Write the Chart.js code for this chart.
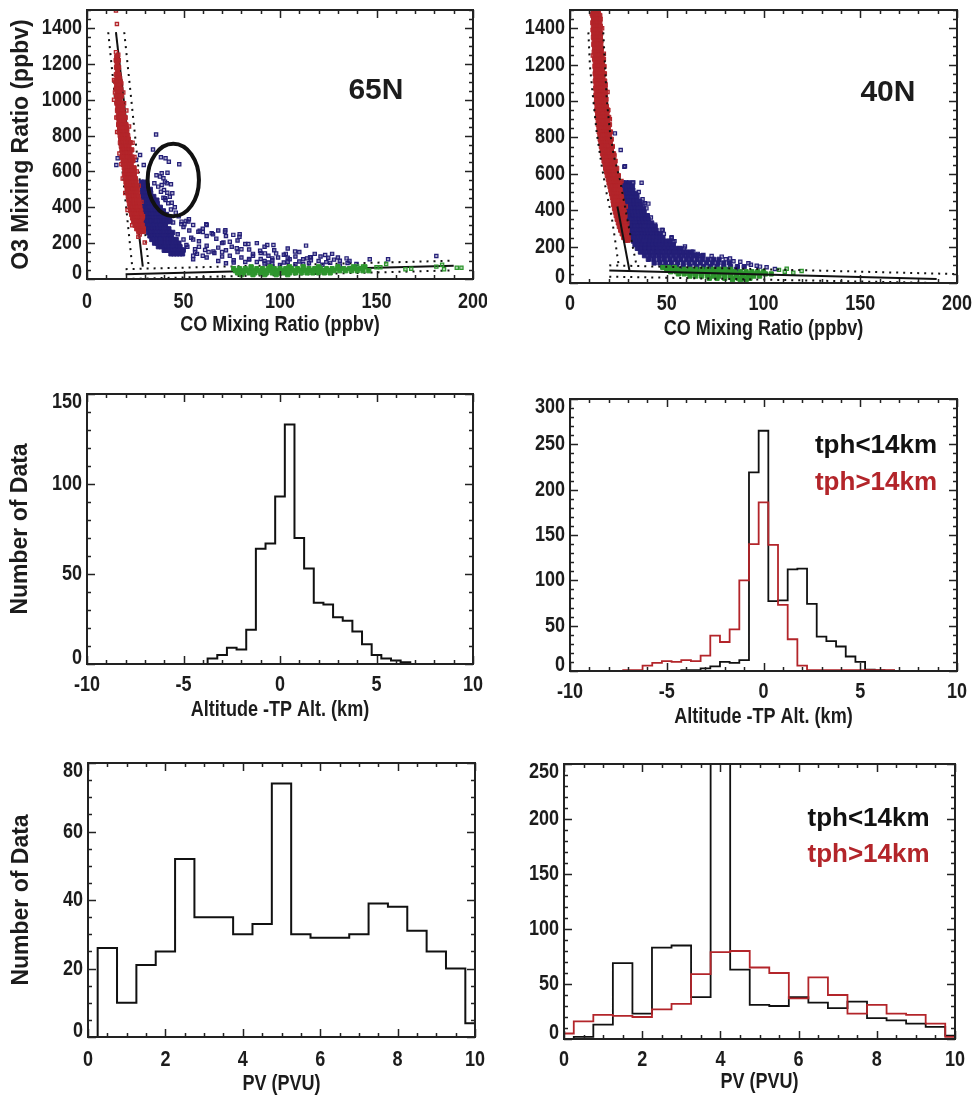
<!DOCTYPE html>
<html>
<head>
<meta charset="utf-8">
<script src="https://cdn.jsdelivr.net/npm/chart.js@4.4.1/dist/chart.umd.min.js"></script>
<style>
  body { margin: 0; background: #fff; width: 974px; height: 1096px; position: relative; overflow: hidden; }
  .box { position: absolute; }
</style>
</head>
<body>
<div class="box" style="left:0;top:0;width:487px;height:345px"><canvas id="c1"></canvas></div>
<div class="box" style="left:487px;top:0;width:487px;height:345px"><canvas id="c2"></canvas></div>
<div class="box" style="left:0;top:345px;width:487px;height:390px"><canvas id="c3"></canvas></div>
<div class="box" style="left:487px;top:345px;width:487px;height:390px"><canvas id="c4"></canvas></div>
<div class="box" style="left:0;top:740px;width:487px;height:356px"><canvas id="c5"></canvas></div>
<div class="box" style="left:487px;top:740px;width:487px;height:356px"><canvas id="c6"></canvas></div>
<script>
// ---- scatter data: each row is [O3, CO, CO, ...] ----
// 65N
const red65Core = [
  [1240,15.4],[1220,15.1,16.2],[1200,15.6],[1180,15.3,16.4],[1160,15.8],[1140,15.2,16.5],[1120,15.6,16.9],
  [1100,14.9,16.1,17.2],[1080,15.4,16.6],[1060,15.1,16.3,17.5],[1040,15.6,16.8],[1020,15.3,16.5,17.8],
  [1000,15.8,17.1],[980,15.5,16.7,18],[960,16,17.3,18.4],[940,15.8,17,18.3],[920,16.3,17.6,18.8],
  [900,16.1,17.4,18.7,19.8],[880,16.6,17.9,19.2],[860,16.4,17.7,19,20.2],[840,16.9,18.2,19.5,20.6],
  [820,16.7,18,19.3,20.6],[800,17.2,18.5,19.8,21.1],[780,17.5,18.8,20.1,21.4],[760,17.3,18.6,19.9,21.2,22.4],
  [740,17.8,19.1,20.4,21.7],[720,18.1,19.4,20.7,22,23.2],[700,18.4,19.7,21,22.3],[680,18.2,19.5,20.8,22.1,23.4],
  [660,18.7,20,21.3,22.6,23.8],[640,19,20.3,21.6,22.9],[620,19.3,20.6,21.9,23.2,24.4],[600,19.6,20.9,22.2,23.5,24.7],
  [580,19.4,20.7,22,23.3,24.5],[560,19.9,21.2,22.5,23.8,25.1],[540,20.2,21.5,22.8,24.1,25.4],
  [520,20.5,21.8,23.1,24.4,25.6],[500,20.8,22.1,23.4,24.7,26],[480,21.1,22.4,23.7,25,26.2],
  [460,21.4,22.7,24,25.3,26.5],[440,21.7,23,24.3,25.6,26.8],[420,22,23.3,24.6,25.9,27.1],
  [400,22.3,23.6,24.9,26.2,27.4],[380,22.7,24,25.3,26.6,27.8],[360,23.1,24.4,25.7,27,28.1],
  [340,23.6,24.9,26.2,27.4,28.5],[320,24.2,25.5,26.8,28],[300,24.9,26.2,27.4,28.6],[280,25.8,27,28.2,29.2],
  [265,26.8,28,29.2]
];
const red65Sparse = [
  [1497,15],[1422,15.5],[1265,15],[1250,16.2],[1110,14],[1090,17.8],[1040,14.5,18.8],[1000,14],[980,19.2],
  [940,20.4],[900,15.2],[850,21.8],[820,15.6],[760,23.6],[700,16.8],[680,24.6],[640,17.8],[600,25.8],
  [560,18.5],[520,26.8],[480,19.8],[430,28.2],[385,21],[350,29],[300,23.4],[248,27.3],[236,26.6],[204,29.9]
];
const blue65Core = [
  [540,28.2,29.6],[520,28.4,29.8,31.2],[500,28.6,30,31.4,32.8],[480,28.8,30.2,31.6,33],
  [460,29,30.4,31.8,33.2,34.6],[440,29.2,30.6,32,33.4,34.8,36.2],[420,29.4,30.8,32.2,33.6,35,36.4],
  [400,29.6,31,32.4,33.8,35.2,36.6,38],[380,29.8,31.2,32.6,34,35.4,36.8,38.2,39.6],
  [360,30,31.4,32.8,34.2,35.6,37,38.4,39.8,41.2],[340,30.2,31.6,33,34.4,35.8,37.2,38.6,40,41.4,42.8],
  [320,30.4,31.8,33.2,34.6,36,37.4,38.8,40.2,41.6,43],[300,30.8,32.2,33.6,35,36.4,37.8,39.2,40.6],
  [280,31.2,32.6,34,35.4,36.8,38.2,39.6,41,42.4],[260,31.8,33.2,34.6,36,37.4,38.8,40.2,41.6,43,44.4],
  [240,32.6,34,35.4,36.8,38.2,39.6,41,42.4,43.8],[220,33.6,35,36.4,37.8,39.2,40.6,42,43.4,44.8,46.2],
  [200,35,36.4,37.8,39.2,40.6,42,43.4,44.8,46.2,47.6],[180,37,38.4,39.8,41.2,42.6,44,45.4,46.8,48.2],
  [160,40,41.4,42.8,44.2,45.6,47,48.4,49.8],[140,43.5,45,46.5,48,49.5]
];
const blue65Sparse = [
  [806,35.8],[722,34.2],[692,27.5],[679,38.3],[673,40.7,15.9],[664,25.4],[654,42.4],[640,47.8],[636,29.4,15.2],
  [592,41.7],[590,38.7],[578,36],[571,37.8],[562,39.6],[543,40.4],[534,41.3,34.9],[528,43.5],[524,38.7],
  [515,36.9],[496,39.9],[487,38.3],[481,41.6],[478,44.2],[459,42.9],[453,39.6],[450,40.4],[440,40.7],
  [425,43.9],[422,42.1],[388,43.5],[400,45.5],[370,46],[350,47.5],
  [333,52.8],[324,51.5],[320,49,52.5],[315,44.6],[306,48.9,61.8],[305,50.5],[301,55,62],[272,71.7],[269,58.4],
  [264,57.7,71.5],[262,60],[255,64.6],[250,65.3,79.1],[246,75.8],[236,79],[220,50,55],[208,74],[203,70.7],
  [195,83.6],[190,51.5,93.4,96.6],[186,113.5],[180,52,58],[171,77.6],[166,56,80],[162,61.2],[158,89.7],
  [153,65.5,107.8],[150,56,63,70],[143,92.2,98],[140,103],[134,123.4],[130,55,60],[128,181],[121,115.6],
  [115,134.5],[110,146.5,156],[84,139.6]
];
const blue65Low = [
  [290,50],[270,53],[250,47],[230,54],[210,58],[185,62],[165,50],[140,57],[120,62],[110,55],[280,60],[240,62],
  [270,68],[240,72],[225,67],[215,78],[200,70],[195,82],[180,75],[175,68],[165,84],[160,72],[150,78],[145,66],
  [140,86],[130,74],[125,70],[120,80],[112,84],[105,76],[100,68],[95,82],[88,72],
  [200,88],[180,92],[170,104],[160,97],[150,110],[145,90],[140,118],[135,102],[130,94],[125,108],[120,99],
  [118,125],[115,114],[112,90],[110,105],[108,128],[105,96],[100,120],[98,110],[95,88],[92,102],[90,126],
  [88,115],[85,96],[82,108],[80,122],[78,100],[75,131],[120,130],[140,127],[130,86],[100,92],[118,104],
  [104,116],[125,121],[92,94],[110,112],[92,76],[86,92],[83,112],[94,124],[102,131],[115,96],[122,116],
  [108,84],[96,104],[89,135],[101,136]
];
const green65Core = [
  [68,85,95,105,112,120,130,138,144],
  [58,76,79,82,85,88,91,94,97,100,103,106,109,112,115,118,121,124,127,130,133,136,139,142],
  [46,77,80,83,86,89,92,95,98,101,104,107,110,113,116,119,122,125,128,131,134,137,140,143,146],
  [34,78,81,84,87,90,93,96,99,102,105,108,111,114,117,120,123,126],
  [24,80,86,92,98,104]
];
const green65Sparse = [[70,140,143],[65,150,152],[84,155],[54,165,185],[57,168],[69,181],[80,184],[63,191.6,194]];

// 40N
const red40Core = [
  [1490,12.2,13.4,14.6],[1470,11.8,13,14.2,15.4],[1450,12.2,13.4,14.6,15.6],[1430,11.8,13,14.2,15.4],
  [1410,12.1,13.3,14.5,15.7],[1390,11.9,13.1,14.3,15.5],[1370,12.3,13.5,14.7,15.9],[1350,12.1,13.3,14.5,15.7],
  [1330,12.5,13.7,14.9,16],[1310,12.3,13.5,14.7,15.9],[1290,12.7,13.9,15.1,16.2],[1270,12.5,13.7,14.9,16.1],
  [1250,12.9,14.1,15.3,16.5],[1230,12.7,13.9,15.1,16.3,17.3],[1210,13.1,14.3,15.5,16.7],
  [1190,12.9,14.1,15.3,16.5,17.6],[1170,13.2,14.4,15.6,16.8],[1150,13,14.2,15.4,16.6,17.8],
  [1130,13.4,14.6,15.8,17],[1110,13.1,14.3,15.5,16.7,17.9],[1090,13.5,14.7,15.9,17.1,18.2],
  [1070,13.3,14.5,15.7,16.9,18.1],[1050,13.6,14.8,16,17.2,18.4],[1030,13.4,14.6,15.8,17,18.2],
  [1010,13.8,15,16.2,17.4,18.6],[990,13.6,14.8,16,17.2,18.4],[970,14,15.2,16.4,17.6,18.8],
  [950,13.9,15.1,16.3,17.5,18.7,19.6],[930,14.3,15.5,16.7,17.9,19.1],[910,14.2,15.4,16.6,17.8,19,20],
  [890,14.6,15.8,17,18.2,19.4],[870,14.6,15.8,17,18.2,19.4,20.4],[850,15,16.2,17.4,18.6,19.8],
  [830,15.1,16.3,17.5,18.7,19.9,20.9],[810,15.5,16.7,17.9,19.1,20.3],[790,15.6,16.8,18,19.2,20.4,21.3],
  [770,16,17.2,18.4,19.6,20.8],[750,16.2,17.4,18.6,19.8,21,21.9],[730,16.6,17.8,19,20.2,21.4],
  [710,16.8,18,19.2,20.4,21.6,22.5],[690,17.3,18.5,19.7,20.9,22.1],[670,17.6,18.8,20,21.2,22.4,23.3],
  [650,18.1,19.3,20.5,21.7,22.9],[630,18.4,19.6,20.8,22,23.2,24.1],[610,18.9,20.1,21.3,22.5,23.7],
  [590,19.3,20.5,21.7,22.9,24.1,25],[570,19.8,21,22.2,23.4,24.6],[550,20.2,21.4,22.6,23.8,25,25.8],
  [530,20.7,21.9,23.1,24.3,25.5],[510,21.1,22.3,23.5,24.7,25.9],[490,21.5,22.7,23.9,25.1,26.3],
  [470,21.9,23.1,24.3,25.5,26.6],[450,22.3,23.5,24.7,25.9,27],[430,22.6,23.8,25,26.2,27.3],
  [410,23,24.2,25.4,26.6,27.7],[390,23.4,24.6,25.8,27,28],[370,23.9,25.1,26.3,27.5,28.4],
  [350,24.4,25.6,26.8,28],[330,25,26.2,27.4,28.5],[310,25.5,26.7,27.9,29],[290,26.2,27.4,28.6,29.5],
  [270,27,28.2,29.3],[250,27.8,29,30],[235,28.8,30]
];
const red40Sparse = [[1480,11.2],[1400,16.6],[1250,11.8],[1260,17.5],[1050,19.4],[900,20.6],[700,23],[560,26.6],[420,28.8],[330,29.6]];
const blue40Core = [
  [550,27.5,29,30.5],[530,27.8,29.3,30.8,32.3],[510,28,29.5,31,32.5],[490,28.2,29.7,31.2,32.7,34],
  [470,28.4,29.9,31.4,32.9,34.4],[450,28.6,30.1,31.6,33.1,34.6,36],[430,28.8,30.3,31.8,33.3,34.8,36.3],
  [410,29,30.5,32,33.5,35,36.5,38],[390,29.3,30.8,32.3,33.8,35.3,36.8,38.3],
  [370,29.6,31.1,32.6,34.1,35.6,37.1,38.6,40],[350,29.9,31.4,32.9,34.4,35.9,37.4,38.9,40.4],
  [330,30.2,31.7,33.2,34.7,36.2,37.7,39.2,40.7,42.2],[310,30.6,32.1,33.6,35.1,36.6,38.1,39.6,41.1,42.6,44],
  [290,31,32.5,34,35.5,37,38.5,40,41.5,43,44.5],[270,31.5,33,34.5,36,37.5,39,40.5,42,43.5,45,46.5],
  [250,32,33.6,35.2,36.8,38.4,40,41.6,43.2,44.8,46.4,48],
  [230,32.8,34.5,36.2,37.9,39.6,41.3,43,44.7,46.4,48.1,49.8,51.5],
  [210,33.6,35.4,37.2,39,40.8,42.6,44.4,46.2,48,49.8,51.6,53.4],
  [190,34.8,36.8,38.8,40.8,42.8,44.8,46.8,48.8,50.8,52.8,54.8,56.8],
  [170,36.4,38.6,40.8,43,45.2,47.4,49.6,51.8,54,56.2,58.4,60.6,62.8],
  [150,38.5,41,43.5,46,48.5,51,53.5,56,58.5,61,63.5,66,68.5],
  [130,40.5,43.3,46.1,48.9,51.7,54.5,57.3,60.1,62.9,65.7,68.5,71.3,74.1,77],
  [110,43.5,46.5,49.5,52.5,55.5,58.5,61.5,64.5,67.5,70.5,73.5,76.5,79.5,82.5],
  [90,48,51.5,55,58.5,62,65.5,69,72.5,76,79.5,83,86.5,90],
  [75,54,58,62,66,70,74,78,82,86]
];
const blue40Sparse = [
  [822,23.2],[731,26.2],[639,28.1],[641,28.4],[553,32.7],[551,32.4,37],[548,30.1],[477,34.8],[438,38.7],
  [436,37.9,40.5],[391,37.9],[292,47.4],[291,47.9],[252,52.5],[246,52.5],[227,53.4],[200,59.4],[190,56.8],
  [172,63.7],[163,62],[154,65.4,68.9],[148,73.2],[145,78.4],[135,82.7],[130,80.5],[120,84.5],[117,88],
  [108,92.2],[100,93.5],[95,96.5],[90,98.2],[86,101.6],[77,105.9],[500,35.5],[460,37.5],[410,39.5],
  [360,41.8],[320,44],[270,48.5],[230,54],[190,59],[160,66]
];
const green40Core = [
  [85,48,51,54],[75,50,53,56,59,62,65,68,71,74,77,80,83],
  [62,52,55,58,61,64,67,70,73,76,79,82,85,88,91,94,97,100],
  [50,56,59,62,65,68,71,74,77,80,83,86,89,92,95,98,101,104],
  [38,62,65,68,71,74,77,80,83,86,89,92,95,98],[26,72,76,80,84,87,90,93],[18,84,88,91]
];
const green40Sparse = [[72,108],[62,111],[56,115.4],[66,119.7],[78,112]];

// ---- fitted lines, [CO, O3] ----
const fit65Steep   = [[15,1376],[28.9,69]];
const fit65SteepLo = [[11,1376],[23.5,62]];
const fit65SteepHi = [[19.3,1376],[32,65]];
const fit65Flat    = [[20,27],[190,74]];
const fit65FlatHi  = [[20,55],[190,102]];
const fit65FlatLo  = [[20,0],[190,48]];
const fit40Steep   = [[24.5,420],[30.7,70]];
const fit40SteepLo = [[9.5,1377],[10.3,1193],[12,1009],[13.8,825],[16.4,642],[18.9,494],[21.5,366],[23.3,237],[25,108]];
const fit40SteepHi = [[17.2,1377],[18.1,1193],[19,1009],[20.7,825],[22.7,697],[25.8,568],[28.4,421],[31,274],[33.1,164],[34.5,90]];
const fit40Flat    = [[20.3,68],[189.5,22]];
const fit40FlatHi  = [[20.3,97],[200,49]];
const fit40FlatLo  = [[20.3,35],[190,0]];

// ---- histograms (bin centres, counts) ----
const alt65Bins  = [-4,-3.5,-3,-2.5,-2,-1.5,-1,-0.5,0,0.5,1,1.5,2,2.5,3,3.5,4,4.5,5,5.5,6,6.5,7];
const alt65Count = [0,3,5,9,8,19,64,67,93,133,70,53,34,33,26,24,18,11,5,3,2,1,0];
const alt40LowBins  = [-4.5,-4,-3.5,-3,-2.5,-2,-1.5,-1,-0.5,0,0.5,1,1.5,2,2.5,3,3.5,4,4.5,5,5.5,6,6.5,7];
const alt40LowCount = [0,1,1,3,5,10,9,12,219,265,77,78,112,113,74,38,33,27,16,10,1.5,1,0.5,0];
const alt40HighBins  = [-7.5,-7,-6.5,-6,-5.5,-5,-4.5,-4,-3.5,-3,-2.5,-2,-1.5,-1,-0.5,0,0.5,1,1.5,2,2.5,3,3.5,4,4.5,5,5.5,6,6.5,7];
const alt40HighCount = [0,1,1,6,9,11,10,12,11,17,39,32,46,100,140,186,139,73,35,6,1,1,1,1,1,1,1,1,1,0];
const pvBins     = [0,0.5,1,1.5,2,2.5,3,3.5,4,4.5,5,5.5,6,6.5,7,7.5,8,8.5,9,9.5,10];
const pv65Count  = [0,26,10,21,25,52,35,35,30,33,74,30,29,29,30,39,38,31,25,20,4];
const pv40Low    = [0,2,13,69,23,83,85,38,300,63,31,30,38,33,28,34,19,17,14,11,3];
const pv40High   = [5,16,22,21,20,27,32,59,79,80,65,60,37,56,40,23,31,23,22,14,2];

const RED = '#b3252a', BLUE = '#241f78', GREEN = '#2e962e', INK = '#1c1c1c';
const SANS = '"Liberation Sans", Arial, sans-serif';
const AXFONT = 'bold 22px ' + SANS;
const YTFONT = 'bold 23px ' + SANS;

function rowsToPoints(rows) {
  const pts = [];
  rows.forEach(r => { for (let i = 1; i < r.length; i++) pts.push({x: r[i], y: r[0]}); });
  return pts;
}
function pairs(arr) { return arr.map(p => ({x: p[0], y: p[1]})); }
function hist(bins, counts) { return bins.map((b, i) => ({x: b, y: counts[i]})); }

function core(rows, color, order) {
  return {type: 'scatter', data: rowsToPoints(rows), pointStyle: 'rect', pointRadius: 3,
          borderWidth: 1, borderColor: color, backgroundColor: color, order: order};
}
function sparse(rows, color, fill, order) {
  return {type: 'scatter', data: rowsToPoints(rows), pointStyle: 'rect', pointRadius: 2.3,
          borderWidth: 1.2, borderColor: color, backgroundColor: fill, order: order};
}
function fit(pts, dotted, order) {
  return {type: 'line', data: pairs(pts), borderColor: '#111', borderWidth: 2,
          borderDash: dotted ? [2, 5] : [], pointRadius: 0, fill: false, order: order};
}
function step(data, color, width, order) {
  return {type: 'line', data: data, stepped: 'middle', borderColor: color, borderWidth: width,
          pointRadius: 0, fill: false, order: order};
}

// lettering, optionally squeezed sideways like the original axis text
function letter(ctx, text, x, y, align, rot, sx) {
  ctx.save();
  ctx.translate(x, y);
  if (rot) ctx.rotate(rot);
  ctx.scale(sx, 1);
  ctx.textAlign = align; ctx.textBaseline = 'middle';
  ctx.fillText(text, 0, 0);
  ctx.restore();
}

// box frame, inward IDL-style ticks, tick labels, titles, ellipse and text labels
const decor = {
  id: 'decor',
  afterDraw(chart, args, o) {
    const {ctx, chartArea: a} = chart;
    const x = chart.scales.x, y = chart.scales.y;
    ctx.save();
    if (o.ellipse) {
      const e = o.ellipse;
      const cx = x.getPixelForValue(e.x), cy = y.getPixelForValue(e.y);
      const rx = Math.abs(x.getPixelForValue(e.x + e.rx) - cx);
      const ry = Math.abs(y.getPixelForValue(e.y + e.ry) - cy);
      ctx.beginPath();
      ctx.ellipse(cx, cy, rx, ry, 0, 0, Math.PI * 2);
      ctx.lineWidth = 4; ctx.strokeStyle = '#111'; ctx.stroke();
    }
    ctx.strokeStyle = '#222';
    ctx.lineWidth = 1.5;
    ctx.beginPath();
    for (let v = x.min; v <= x.max + 1e-9; v += o.xMinor) {
      const k = v / o.xMajor, L = Math.abs(k - Math.round(k)) < 1e-6 ? 8 : 4;
      const p = Math.round(x.getPixelForValue(v)) + 0.5;
      ctx.moveTo(p, a.bottom); ctx.lineTo(p, a.bottom - L);
      ctx.moveTo(p, a.top); ctx.lineTo(p, a.top + L);
    }
    for (let v = y.min; v <= y.max + 1e-9; v += o.yMinor) {
      const k = v / o.yMajor, L = Math.abs(k - Math.round(k)) < 1e-6 ? 8 : 4;
      const p = Math.round(y.getPixelForValue(v)) + 0.5;
      ctx.moveTo(a.left, p); ctx.lineTo(a.left + L, p);
      ctx.moveTo(a.right, p); ctx.lineTo(a.right - L, p);
    }
    ctx.stroke();
    ctx.lineWidth = 2;
    ctx.strokeRect(a.left, a.top, a.right - a.left, a.bottom - a.top);

    ctx.fillStyle = INK;
    ctx.font = AXFONT;
    x.ticks.forEach(t => letter(ctx, String(t.value), x.getPixelForValue(t.value), a.bottom + o.xLab, 'center', 0, 0.82));
    y.ticks.forEach(t => {
      const p = Math.min(Math.max(y.getPixelForValue(t.value), a.top + 8), a.bottom - 6);
      letter(ctx, String(t.value), a.left - 5, p, 'right', 0, 0.82);
    });
    letter(ctx, o.xTitle, (a.left + a.right) / 2, a.bottom + o.xTit, 'center', 0, 0.82);
    if (o.yTitle) {
      ctx.font = YTFONT;
      letter(ctx, o.yTitle, o.yTitX, (a.top + a.bottom) / 2, 'center', -Math.PI / 2, 1);
    }

    (o.labels || []).forEach(l => {
      ctx.font = l.font; ctx.fillStyle = l.color; ctx.textAlign = l.align; ctx.textBaseline = 'alphabetic';
      ctx.fillText(l.text, x.getPixelForValue(l.x), y.getPixelForValue(l.y));
    });
    ctx.restore();
  }
};

function makeChart(id, datasets, s) {
  return new Chart(document.getElementById(id), {
    type: 'scatter',
    data: {datasets: datasets},
    plugins: [decor],
    options: {
      responsive: true, maintainAspectRatio: false, animation: false, events: [],
      layout: {padding: {top: s.top, right: s.right, left: 0, bottom: 0}},
      plugins: {
        legend: {display: false}, tooltip: {enabled: false},
        decor: {xMinor: s.xMinor, xMajor: s.xStep, yMinor: s.yMinor, yMajor: s.yStep,
                xLab: s.xLab, xTit: s.xTit, xTitle: s.xTitle, yTitle: s.yTitle, yTitX: s.yTitX,
                ellipse: s.ellipse, labels: s.labels}
      },
      scales: {
        x: {type: 'linear', min: s.xMin, max: s.xMax, grid: {display: false, drawTicks: false}, border: {display: false},
            ticks: {display: false, stepSize: s.xStep, includeBounds: false},
            afterFit: sc => { sc.height = s.xH; sc.paddingLeft = 0; sc.paddingRight = 0; }},
        y: {type: 'linear', min: s.yMin, max: s.yMax, grid: {display: false, drawTicks: false}, border: {display: false},
            ticks: {display: false, stepSize: s.yStep, includeBounds: false},
            afterFit: sc => { sc.width = s.yW; sc.paddingTop = 0; sc.paddingBottom = 0; }}
      }
    }
  });
}

const redFill = 'rgba(179,37,42,0.35)', blueFill = 'rgba(36,31,120,0.35)', greenFill = 'rgba(46,150,46,0.35)';
const blueLowFill = 'rgba(36,31,120,0.55)';

makeChart('c1', [
  core(red65Core, RED, 1), sparse(red65Sparse, RED, redFill, 2),
  core(green65Core, GREEN, 3), sparse(green65Sparse, GREEN, greenFill, 4),
  core(blue65Core, BLUE, 5), sparse(blue65Sparse, BLUE, blueFill, 6), sparse(blue65Low, BLUE, blueLowFill, 7),
  fit(fit65Steep, false, 10), fit(fit65SteepLo, true, 10), fit(fit65SteepHi, true, 10),
  fit(fit65Flat, false, 10), fit(fit65FlatHi, true, 10), fit(fit65FlatLo, true, 10)
], {top: 10, right: 14, yW: 87, xH: 66, xMin: 0, xMax: 200, xStep: 50, xMinor: 10, yMin: 0, yMax: 1500,
    yStep: 200, yMinor: 50, xLab: 23, xTit: 46, xTitle: 'CO Mixing Ratio (ppbv)',
    yTitle: 'O3 Mixing Ratio (ppbv)', yTitX: 22,
    ellipse: {x: 44.7, y: 552, rx: 13.3, ry: 202},
    labels: [{text: '65N', x: 149.7, y: 1002, font: 'bold 30px ' + SANS, color: INK, align: 'center'}]});

makeChart('c2', [
  fit(fit40Steep, false, 0), fit(fit40SteepLo, true, 0), fit(fit40SteepHi, true, 0),
  fit(fit40Flat, false, 0), fit(fit40FlatHi, true, 0), fit(fit40FlatLo, true, 0),
  core(red40Core, RED, 1), sparse(red40Sparse, RED, redFill, 2),
  core(green40Core, GREEN, 3), sparse(green40Sparse, GREEN, greenFill, 4),
  core(blue40Core, BLUE, 5), sparse(blue40Sparse, BLUE, blueFill, 6)
], {top: 10, right: 17, yW: 83, xH: 62, xMin: 0, xMax: 200, xStep: 50, xMinor: 10, yMin: 0, yMax: 1500,
    yStep: 200, yMinor: 50, xLab: 21, xTit: 46, xTitle: 'CO Mixing Ratio (ppbv)',
    labels: [{text: '40N', x: 164.3, y: 1002, font: 'bold 30px ' + SANS, color: INK, align: 'center'}]});

makeChart('c3', [
  step(hist(alt65Bins, alt65Count), '#111', 2, 1)
], {top: 49, right: 14, yW: 87, xH: 71, xMin: -10, xMax: 10, xStep: 5, xMinor: 1, yMin: 0, yMax: 150,
    yStep: 50, yMinor: 10, xLab: 21, xTit: 46, xTitle: 'Altitude -TP Alt. (km)',
    yTitle: 'Number of Data', yTitX: 21});

makeChart('c4', [
  step(hist(alt40HighBins, alt40HighCount), RED, 1.8, 1),
  step(hist(alt40LowBins, alt40LowCount), '#111', 1.8, 2)
], {top: 54, right: 17, yW: 83, xH: 64, xMin: -10, xMax: 10, xStep: 5, xMinor: 1, yMin: 0, yMax: 300,
    yStep: 50, yMinor: 10, xLab: 21, xTit: 46, xTitle: 'Altitude -TP Alt. (km)',
    labels: [{text: 'tph<14km', x: 8.97, y: 240, font: 'bold 26px ' + SANS, color: '#111', align: 'right'},
             {text: 'tph>14km', x: 8.97, y: 200, font: 'bold 26px ' + SANS, color: RED, align: 'right'}]});

makeChart('c5', [
  step(hist(pvBins, pv65Count), '#111', 2, 1)
], {top: 23, right: 12, yW: 88, xH: 59, xMin: 0, xMax: 10, xStep: 2, xMinor: 0.5, yMin: 0, yMax: 80,
    yStep: 20, yMinor: 5, xLab: 23, xTit: 47, xTitle: 'PV (PVU)',
    yTitle: 'Number of Data', yTitX: 22});

makeChart('c6', [
  step(hist(pvBins, pv40High), RED, 1.8, 1),
  step(hist(pvBins, pv40Low), '#111', 1.8, 2)
], {top: 24, right: 19, yW: 77, xH: 57, xMin: 0, xMax: 10, xStep: 2, xMinor: 0.5, yMin: 0, yMax: 250,
    yStep: 50, yMinor: 10, xLab: 21, xTit: 43, xTitle: 'PV (PVU)',
    labels: [{text: 'tph<14km', x: 9.35, y: 194, font: 'bold 26px ' + SANS, color: '#111', align: 'right'},
             {text: 'tph>14km', x: 9.35, y: 161, font: 'bold 26px ' + SANS, color: RED, align: 'right'}]});
</script>
</body>
</html>
